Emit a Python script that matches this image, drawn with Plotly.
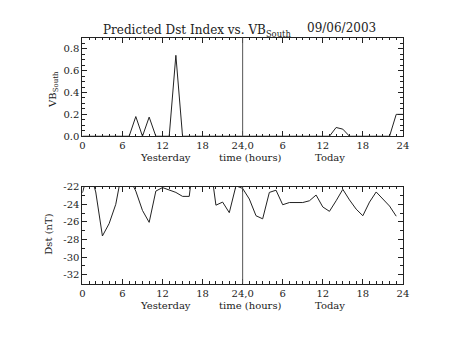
import plotly.graph_objects as go

# ---- data ----
hours_vb = list(range(0, 49))
vb_south = [0, 0, 0, 0, 0, 0, 0, 0, 0.18, 0, 0.175, 0, 0, 0, 0.74, 0,
            0, 0, 0, 0, 0, 0, 0, 0, 0, 0, 0, 0, 0, 0, 0, 0,
            0, 0, 0, 0, 0, 0, 0.08, 0.065, 0, 0, 0, 0, 0, 0, 0, 0.2, 0.2]

hours_dst = list(range(0, 48))
dst = [-22.7, -20.0, -22.6, -27.6, -26.2, -24.0, -20.0, -21.0, -22.5, -24.7,
       -26.05, -22.5, -22.1, -22.4, -22.65, -23.1, -23.1, -17.0, -17.0, -18.5,
       -24.1, -23.75, -24.95, -21.9, -22.2, -23.4, -25.3, -25.65, -22.65, -22.4,
       -24.05, -23.8, -23.8, -23.8, -23.6, -22.95, -24.3, -24.8, -23.6, -22.3,
       -23.5, -24.55, -25.3, -23.75, -22.6, -23.4, -24.2, -25.35]

x_tickvals = [0, 6, 12, 18, 24, 30, 36, 42, 48]
x_ticktext = ["0", "6", "12", "18", "24,0", "6", "12", "18", "24"]
vb_ticks = [0.0, 0.2, 0.4, 0.6, 0.8]
dst_ticks = [-32, -30, -28, -26, -24, -22]

FONT = "DejaVu Serif"
W, H = 453, 340
LINE = "#222222"

fig = go.Figure()
fig.add_trace(go.Scatter(x=hours_vb, y=vb_south, mode="lines",
                         line=dict(color=LINE, width=1), xaxis="x", yaxis="y",
                         showlegend=False, hoverinfo="skip"))
fig.add_trace(go.Scatter(x=hours_dst, y=dst, mode="lines",
                         line=dict(color=LINE, width=1), xaxis="x2", yaxis="y2",
                         showlegend=False, hoverinfo="skip"))

xdom = [81 / W, 408 / W]
top_dom = [1 - 135 / H, 1 - 33 / H]
bot_dom = [1 - 287.7 / H, 1 - 187.3 / H]

common_x = dict(range=[0, 48], tickvals=x_tickvals, ticktext=x_ticktext,
                ticks="inside", ticklen=5, tickcolor=LINE, showline=True,
                linecolor=LINE, linewidth=1, mirror="allticks", showgrid=False,
                zeroline=False, tickfont=dict(family=FONT, size=10, color="#222"),
                minor=dict(dtick=1, ticks="inside", ticklen=2.5, tickcolor=LINE),
                domain=xdom, fixedrange=True)
common_y = dict(ticks="inside", ticklen=5, tickcolor=LINE, showline=True,
                linecolor=LINE, linewidth=1, mirror="allticks", showgrid=False,
                zeroline=False, tickfont=dict(family=FONT, size=10, color="#222"),
                fixedrange=True)

fig.update_layout(
    width=W, height=H,
    margin=dict(l=0, r=0, t=0, b=0, pad=0),
    paper_bgcolor="white", plot_bgcolor="white",
    xaxis=dict(**common_x, anchor="y"),
    yaxis=dict(**common_y, range=[0, 0.9], tickvals=vb_ticks,
               ticktext=["0.0", "0.2", "0.4", "0.6", "0.8"],
               minor=dict(dtick=0.05, ticks="inside", ticklen=2.5, tickcolor=LINE),
               domain=top_dom, anchor="x"),
    xaxis2=dict(**common_x, anchor="y2"),
    yaxis2=dict(**common_y, range=[-33, -22], tickvals=dst_ticks,
                ticktext=[str(v) for v in dst_ticks],
                minor=dict(dtick=1, ticks="inside", ticklen=2.5, tickcolor=LINE),
                domain=bot_dom, anchor="x2"),
)

# vertical separators at 24 h
for xr, yr in (("x", "y domain"), ("x2", "y2 domain")):
    fig.add_shape(type="line", xref=xr, yref=yr, x0=24, x1=24, y0=0, y1=1,
                  line=dict(color="#555555", width=1))

def ann(text, x, y, size=10, angle=0, xanchor="center"):
    fig.add_annotation(text=text, x=x / W, y=1 - y / H, xref="paper", yref="paper",
                       showarrow=False, textangle=angle, xanchor=xanchor,
                       yanchor="middle",
                       font=dict(family=FONT, size=size, color="#222"))

ann("Predicted Dst Index vs. VB<sub>South</sub>", 100, 26, size=12, xanchor="left")
ann("09/06/2003", 308, 23, size=12, xanchor="left")

for yy in (157, 310):
    ann("Yesterday", 166, yy)
    ann("time (hours)", 253, yy)
    ann("Today", 334, yy)

ann("VB<sub>South</sub>", 52, 86, angle=-90)
ann("Dst (nT)", 47, 237, angle=-90)

fig.write_html("out.html")
